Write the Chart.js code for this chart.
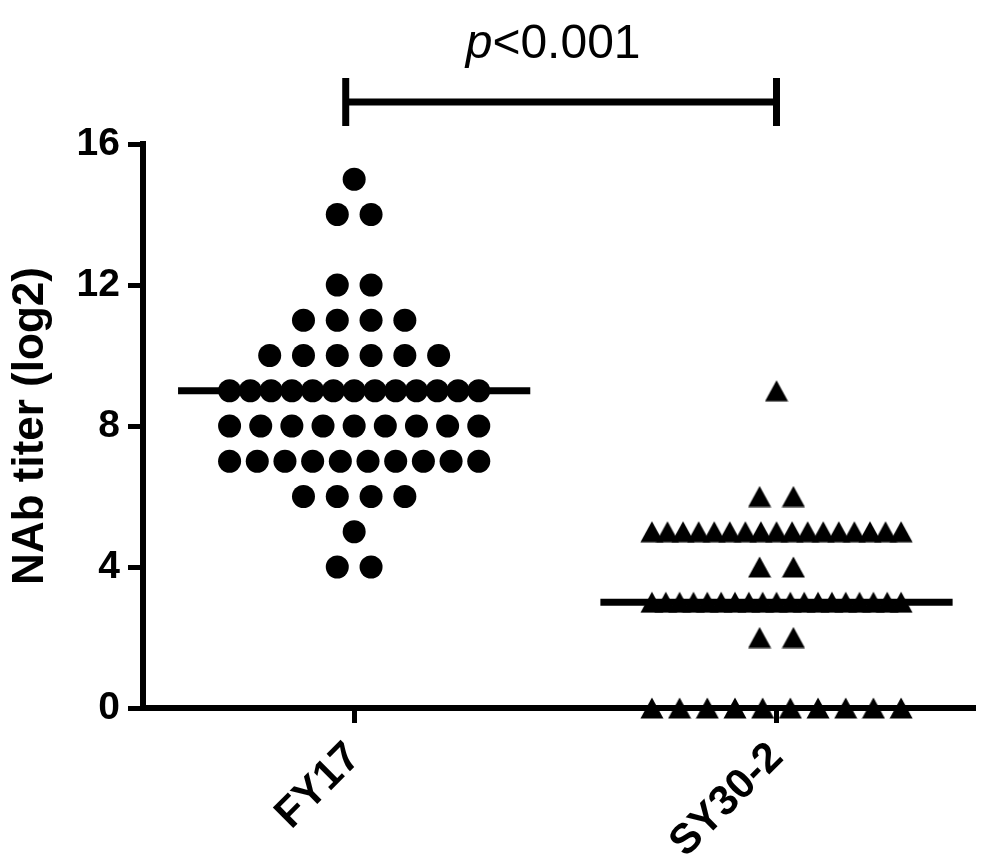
<!DOCTYPE html>
<html>
<head>
<meta charset="utf-8">
<script src="https://cdn.jsdelivr.net/npm/chart.js@4/dist/chart.umd.min.js"></script>
<style>
  html, body { margin: 0; padding: 0; background: #fff; }
</style>
</head>
<body>
<canvas id="titerChart" width="1000" height="862"></canvas>
<script>
// Data (log2 NAb titer of each animal)
const groups = ['FY17', 'SY30-2'];
const fy17Titers = [
    15,
    14, 14,
    12, 12,
    11, 11, 11, 11,
    10, 10, 10, 10, 10, 10,
    9, 9, 9, 9, 9, 9, 9, 9, 9, 9, 9, 9, 9,
    8, 8, 8, 8, 8, 8, 8, 8, 8,
    7, 7, 7, 7, 7, 7, 7, 7, 7, 7,
    6, 6, 6, 6,
    5,
    4, 4
];
const sy30Titers = [
    9,
    6, 6,
    5, 5, 5, 5, 5, 5, 5, 5, 5, 5, 5, 5, 5, 5, 5, 5, 5,
    4, 4,
    3, 3, 3, 3, 3, 3, 3, 3, 3, 3, 3, 3, 3, 3, 3, 3, 3, 3, 3,
    2, 2,
    0, 0, 0, 0, 0, 0, 0, 0, 0, 0
];
const medians = [9, 3];
const yTicks = [0, 4, 8, 12, 16];
const pText = ['p', '<0.001'];

const FONT = "'Liberation Sans', Arial, sans-serif";

// spread equal values sideways like a column scatter plot
const swarm = (values, center) => {
    const rows = {};
    values.forEach(v => { (rows[v] = rows[v] || []).push(v); });
    const pts = [];
    Object.keys(rows).forEach(k => {
        const n = rows[k].length;
        const step = n > 1 ? Math.min(0.08, 0.59 / (n - 1)) : 0;
        rows[k].forEach((v, i) => pts.push({ x: center + (i - (n - 1) / 2) * step, y: v }));
    });
    return pts;
};

// filled triangle centred on its bounding box
const triangle = document.createElement('canvas');
triangle.width = 24;
triangle.height = 22;
const tctx = triangle.getContext('2d');
tctx.fillStyle = '#000';
tctx.beginPath();
tctx.moveTo(12, 0.5);
tctx.lineTo(23.5, 21.5);
tctx.lineTo(0.5, 21.5);
tctx.closePath();
tctx.fill();

const medianLine = (i) => ({
    type: 'line',
    data: [{ x: i + 1 - 0.417, y: medians[i] }, { x: i + 1 + 0.417, y: medians[i] }],
    borderColor: '#000',
    borderWidth: 7,
    pointRadius: 0,
    clip: false
});

// significance bracket and p value above the plot
const bracketPlugin = {
    id: 'bracket',
    afterDraw(chart) {
        const { ctx, chartArea } = chart;
        const xs = chart.scales.x;
        const x1 = xs.getPixelForValue(0.98);
        const x2 = xs.getPixelForValue(2.0);
        const yl = chartArea.top - 42;
        ctx.save();
        ctx.strokeStyle = '#000';
        ctx.lineWidth = 7;
        ctx.beginPath();
        ctx.moveTo(x1, yl); ctx.lineTo(x2, yl);
        ctx.moveTo(x1, yl - 24); ctx.lineTo(x1, yl + 24);
        ctx.moveTo(x2, yl - 24); ctx.lineTo(x2, yl + 24);
        ctx.stroke();

        ctx.fillStyle = '#000';
        ctx.textBaseline = 'alphabetic';
        ctx.textAlign = 'left';
        ctx.font = `italic 48px ${FONT}`;
        const w1 = ctx.measureText(pText[0]).width;
        ctx.font = `48px ${FONT}`;
        const w2 = ctx.measureText(pText[1]).width;
        let tx = (x1 + x2) / 2 - 8 - (w1 + w2) / 2;
        const ty = chartArea.top - 86;
        ctx.font = `italic 48px ${FONT}`;
        ctx.fillText(pText[0], tx, ty);
        ctx.font = `48px ${FONT}`;
        ctx.fillText(pText[1], tx + w1, ty);
        ctx.restore();
    }
};

const tickFont = { family: FONT, size: 39, weight: 'bold' };
const labelFont = { family: FONT, size: 42, weight: 'bold' };
const titleFont = { family: FONT, size: 44, weight: 'bold' };

new Chart(document.getElementById('titerChart'), {
    type: 'scatter',
    data: {
        datasets: [
            {
                label: groups[0],
                data: swarm(fy17Titers, 1),
                pointStyle: 'circle',
                pointRadius: 11.5,
                backgroundColor: '#000',
                borderWidth: 0,
                clip: false
            },
            {
                label: groups[1],
                data: swarm(sy30Titers, 2),
                pointStyle: triangle,
                pointRadius: 12,
                backgroundColor: '#000',
                borderWidth: 0,
                clip: false
            },
            medianLine(0),
            medianLine(1)
        ]
    },
    options: {
        responsive: false,
        animation: false,
        events: [],
        layout: { padding: { top: 144, right: 25, left: 0, bottom: 0 } },
        plugins: {
            legend: { display: false },
            tooltip: { enabled: false }
        },
        scales: {
            x: {
                type: 'linear',
                min: 0.5,
                max: 2.47,
                afterBuildTicks: axis => { axis.ticks = groups.map((g, i) => ({ value: i + 1 })); },
                afterFit: axis => { axis.height = 154; },
                border: { display: true, color: '#000', width: 6 },
                grid: { display: true, drawOnChartArea: false, drawTicks: true, tickLength: 15, tickWidth: 5, tickColor: '#000' },
                ticks: {
                    callback: v => groups[v - 1],
                    autoSkip: false,
                    minRotation: 45,
                    maxRotation: 45,
                    padding: 10,
                    color: '#000',
                    font: labelFont
                }
            },
            y: {
                min: 0,
                max: 16,
                afterBuildTicks: axis => { axis.ticks = yTicks.map(v => ({ value: v })); },
                afterFit: axis => { axis.width = 143; },
                border: { display: true, color: '#000', width: 6 },
                grid: { display: true, drawOnChartArea: false, drawTicks: true, tickLength: 15, tickWidth: 5, tickColor: '#000' },
                ticks: { color: '#000', padding: 8, font: tickFont },
                title: {
                    display: true,
                    text: 'NAb titer (log2)',
                    color: '#000',
                    font: titleFont,
                    padding: { top: 4, bottom: 0 }
                }
            }
        }
    },
    plugins: [bracketPlugin]
});
</script>
</body>
</html>
